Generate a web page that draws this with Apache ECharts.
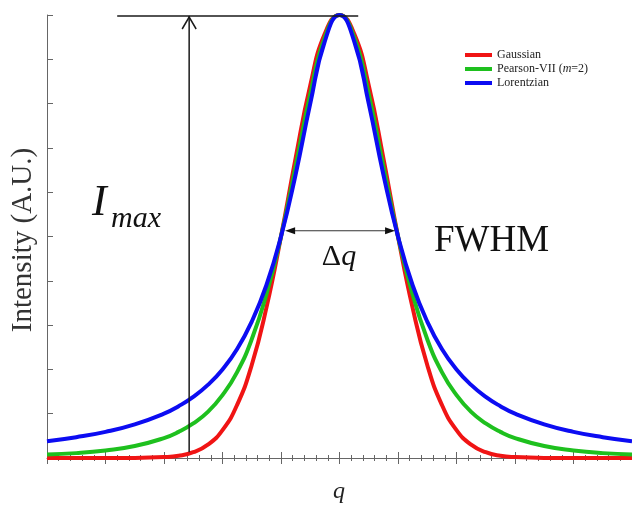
<!DOCTYPE html>
<html>
<head>
<meta charset="utf-8">
<script src="https://cdn.jsdelivr.net/npm/echarts@6/dist/echarts.min.js"></script>
<style>
  html, body { margin: 0; padding: 0; background: #fff; }
  #chart { width: 632px; height: 506px; }
</style>
</head>
<body>
<div id="chart"></div>
<script>
// q positions (peak centred at 0, HWHM = 1)
const qValues = [-5, -4.5, -4, -3.5, -3, -2.75, -2.5, -2.25, -2, -1.75, -1.5, -1.25, -1, -0.75, -0.5, -0.25,
  0, 0.25, 0.5, 0.75, 1, 1.25, 1.5, 1.75, 2, 2.25, 2.5, 2.75, 3, 3.5, 4, 4.5, 5];

const gaussian = [0, 0, 0, 0.0002, 0.002, 0.005, 0.013, 0.030, 0.063, 0.120, 0.210, 0.339, 0.500, 0.677, 0.841, 0.958,
  1.000, 0.958, 0.841, 0.677, 0.500, 0.339, 0.210, 0.120, 0.063, 0.030, 0.013, 0.005, 0.002, 0.0002, 0, 0, 0];

const pearson = [0.008, 0.011, 0.017, 0.027, 0.045, 0.059, 0.078, 0.104, 0.142, 0.194, 0.268, 0.369, 0.500, 0.658, 0.821, 0.950,
  1.000, 0.950, 0.821, 0.658, 0.500, 0.369, 0.268, 0.194, 0.142, 0.104, 0.078, 0.059, 0.045, 0.027, 0.017, 0.011, 0.008];

const lorentzian = [0.038, 0.047, 0.059, 0.076, 0.100, 0.117, 0.138, 0.165, 0.200, 0.246, 0.308, 0.390, 0.500, 0.640, 0.800, 0.941,
  1.000, 0.941, 0.800, 0.640, 0.500, 0.390, 0.308, 0.246, 0.200, 0.165, 0.138, 0.117, 0.100, 0.076, 0.059, 0.047, 0.038];

const seriesNames = ["Gaussian", "Pearson-VII (m=2)", "Lorentzian"];
const seriesColors = ["#f01414", "#1ec01e", "#0c0cf2"];

// annotation anchors in data units
const imaxLine = [[-3.8, 1], [0.32, 1]];
const imaxArrow = [[-2.57, 0.013], [-2.57, 1]];
const fwhmArrow = [[-0.93, 0.513], [0.95, 0.513]];

const serif = "Liberation Serif, Times New Roman, serif";
const pairs = (ys) => qValues.map((q, i) => [q, ys[i]]);

const chart = echarts.init(document.getElementById("chart"));

const curve = (name, ys, color) => ({
  name: name,
  type: "line",
  data: pairs(ys),
  smooth: true,
  showSymbol: false,
  clip: false,
  lineStyle: { color: color, width: 4 },
  itemStyle: { color: color },
});

const option = {
  animation: false,
  grid: { left: 47, right: 0, top: 15, bottom: 48 },
  legend: {
    data: seriesNames,
    orient: "vertical",
    left: 465,
    top: 49,
    padding: 0,
    icon: "rect",
    itemWidth: 27,
    itemHeight: 4,
    itemGap: 2,
    formatter: function (name) {
      if (name === "Pearson-VII (m=2)") return "{r|Pearson-VII (}{i|m}{r|=2)}";
      return "{r|" + name + "}";
    },
    textStyle: {
      rich: {
        r: { fontFamily: serif, fontSize: 12, lineHeight: 12, color: "#222" },
        i: { fontFamily: serif, fontSize: 12, lineHeight: 12, color: "#222", fontStyle: "italic" },
      },
    },
  },
  xAxis: [
    {
      type: "value",
      min: -5,
      max: 5,
      interval: 1,
      axisLine: { show: true, onZero: false, lineStyle: { color: "#666", width: 1 } },
      axisTick: { show: true, length: 6, lineStyle: { color: "#666" } },
      minorTick: { show: true, splitNumber: 5, length: 3, lineStyle: { color: "#666" } },
      axisLabel: { show: false },
      splitLine: { show: false },
    },
    {
      type: "value",
      position: "bottom",
      min: -5,
      max: 5,
      interval: 1,
      axisLine: { show: false, onZero: false },
      axisTick: { show: true, inside: true, length: 6, lineStyle: { color: "#666" } },
      minorTick: { show: true, splitNumber: 5, length: 3, lineStyle: { color: "#666" } },
      axisLabel: { show: false },
      splitLine: { show: false },
    },
  ],
  yAxis: {
    type: "value",
    position: "left",
    min: 0,
    max: 1,
    interval: 0.1,
    axisLine: { show: true, onZero: false, lineStyle: { color: "#666", width: 1 } },
    axisTick: { show: true, inside: true, length: 6, lineStyle: { color: "#666" } },
    axisLabel: { show: false },
    splitLine: { show: false },
  },
  series: [
    curve(seriesNames[0], gaussian, seriesColors[0]),
    curve(seriesNames[1], pearson, seriesColors[1]),
    curve(seriesNames[2], lorentzian, seriesColors[2]),
  ],
};

chart.setOption(option);

// annotations placed from data anchors
const px = (p) => chart.convertToPixel({ gridIndex: 0 }, p);
const lineStroke = { stroke: "#1a1a1a", lineWidth: 1.5 };

const l0 = px(imaxLine[0]), l1 = px(imaxLine[1]);
const a0 = px(imaxArrow[0]), a1 = px(imaxArrow[1]);
const f0 = px(fwhmArrow[0]), f1 = px(fwhmArrow[1]);

chart.setOption({
  graphic: [
    { type: "line", z: 50, shape: { x1: l0[0], y1: l0[1] + 1, x2: l1[0], y2: l1[1] + 1 }, style: lineStroke },
    { type: "line", z: 50, shape: { x1: a0[0], y1: a0[1], x2: a1[0], y2: a1[1] + 1 }, style: lineStroke },
    {
      type: "polyline", z: 50,
      shape: { points: [[a1[0] - 7, a1[1] + 14], [a1[0], a1[1] + 2], [a1[0] + 7, a1[1] + 14]] },
      style: { stroke: "#1a1a1a", lineWidth: 1.5, fill: null },
    },
    { type: "line", z: 50, shape: { x1: f0[0] + 4, y1: f0[1], x2: f1[0] - 4, y2: f1[1] }, style: { stroke: "#333", lineWidth: 1.2 } },
    {
      type: "polygon", z: 50,
      shape: { points: [[f0[0], f0[1]], [f0[0] + 10, f0[1] - 3.5], [f0[0] + 10, f0[1] + 3.5]] },
      style: { fill: "#111" },
    },
    {
      type: "polygon", z: 50,
      shape: { points: [[f1[0], f1[1]], [f1[0] - 10, f1[1] - 3.5], [f1[0] - 10, f1[1] + 3.5]] },
      style: { fill: "#111" },
    },
    {
      type: "text", z: 50, x: 92, y: 203,
      style: { text: "I", font: "italic 44px " + serif, fill: "#111", align: "left", verticalAlign: "middle" },
    },
    {
      type: "text", z: 50, x: 111, y: 219,
      style: { text: "max", font: "italic 30px " + serif, fill: "#111", align: "left", verticalAlign: "middle" },
    },
    {
      type: "text", z: 50, x: 339, y: 257,
      style: {
        text: "{d|Δ}{q|q}",
        align: "center",
        verticalAlign: "middle",
        rich: {
          d: { font: "30px " + serif, fill: "#111" },
          q: { font: "italic 30px " + serif, fill: "#111" },
        },
      },
    },
    {
      type: "text", z: 50, x: 434, y: 241,
      style: { text: "FWHM", font: "37px " + serif, fill: "#111", align: "left", verticalAlign: "middle" },
    },
    {
      type: "text", z: 50, x: 339, y: 492,
      style: { text: "q", font: "italic 24px " + serif, fill: "#222", align: "center", verticalAlign: "middle" },
    },
    {
      type: "text", z: 50, x: 23, y: 240, rotation: Math.PI / 2,
      style: { text: "Intensity (A.U.)", font: "29px " + serif, fill: "#333", align: "center", verticalAlign: "middle" },
    },
  ],
});
</script>
</body>
</html>
